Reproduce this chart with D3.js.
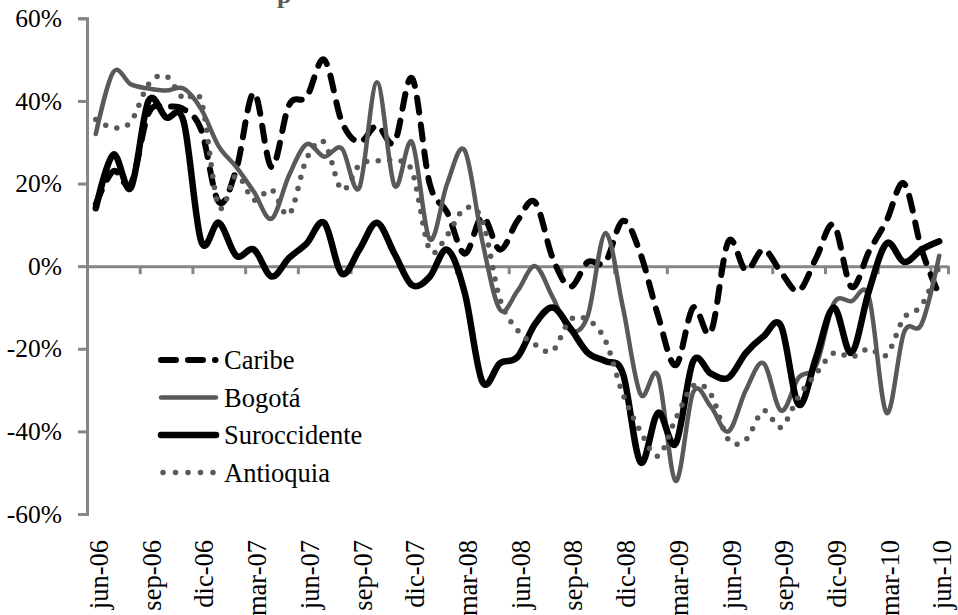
<!DOCTYPE html>
<html>
<head>
<meta charset="utf-8">
<script src="https://cdn.jsdelivr.net/npm/d3@7"></script>
<style>
  body { margin: 0; background: #fff; }
  text { font-family: "Liberation Serif", "Times New Roman", serif; fill: #000; }
</style>
</head>
<body>
<div id="chart"></div>
<script>
// monthly series, jun-06 .. jun-10 (49 months), values in %
var months = d3.range(49);
var tickLabels = ["jun-06", "sep-06", "dic-06", "mar-07", "jun-07", "sep-07", "dic-07", "mar-08",
  "jun-08", "sep-08", "dic-08", "mar-09", "jun-09", "sep-09", "dic-09", "mar-10", "jun-10"];
var seriesNames = ["Caribe", "Bogotá", "Suroccidente", "Antioquia"];

var caribe = [15, 23, 20, 37, 38.5, 38, 33, 15.5, 23.5, 42, 24, 39, 41, 50, 35, 30, 34, 30, 45.5, 20,
  13, 3, 12, 4, 11, 15.5, 2, -5, 1, 1, 11, 3, -12, -24, -10, -16, 6, -1, 4, -1.5,
  -6, 2, 10, -5, 3.5, 11, 20, 4, -7];
var bogota = [32, 47, 44, 43, 42.5, 43, 38, 29, 24, 18, 11.5, 22, 29.5, 26.5, 28.5, 19, 44.5, 19.5, 30, 6.5,
  20, 28, 6, -10.5, -6, 0, -7.5, -15.5, -12, 8, -10, -31, -26.5, -52, -30.5, -34, -40, -30, -23.5, -35,
  -27, -24, -9, -8.5, -7.5, -35.5, -16, -14, 2.5];
var suroccidente = [14, 27, 19, 40, 36, 35, 6, 10.5, 2.5, 4, -2.5, 2, 5.5, 10.5, -1.8, 4, 10.5, 3, -4.6, -2.6,
  4, -6.5, -28, -23.5, -22, -14, -10, -15, -21, -23, -26, -47.5, -35.5, -43, -23, -26, -27, -21, -17, -14.5,
  -33.5, -22, -10, -21, -6, 5.5, 1, 4, 6];
var antioquia = [35.5, 33.5, 35, 44, 46, 40.5, 40, 14.5, 22, 16, 18.5, 12.5, 26, 30, 18.5, 24.5, 25.5, 25.5, 23, 4,
  7.5, 14, 11, -8, -15.5, -19, -20.5, -13, -13, -18, -31, -40, -46, -37, -29, -31, -42, -42, -35, -39,
  -31.5, -26, -21, -22, -20, -21.5, -12.5, -9.5, 0];

var width = 958, height = 615;
var plotLeft = 87, plotRight = 948, plotTop = 18.3, plotBottom = 514;
var fontSize = 26.5;

var svg = d3.select("#chart").append("svg")
    .attr("width", width)
    .attr("height", height);

// title, cut off by the top edge as in the source picture
svg.append("text")
    .attr("x", 277)
    .attr("y", 3)
    .attr("font-size", 26)
    .attr("font-weight", "bold")
    .style("fill", "#595959")
    .text("p");

var x = d3.scaleBand().domain(months).range([plotLeft, plotRight]).padding(0);
var xEdge = d3.scaleLinear().domain([0, months.length]).range([plotLeft, plotRight]);
var y = d3.scaleLinear().domain([-0.6, 0.6]).range([plotBottom, plotTop]);

var axisColor = "#868686";
var pct = d3.format(".0%");

// y axis
var yAxis = svg.append("g")
    .attr("transform", "translate(" + plotLeft + ",0)")
    .call(d3.axisLeft(y).tickValues([-0.6, -0.4, -0.2, 0, 0.2, 0.4, 0.6]).tickSize(9).tickPadding(16)
      .tickFormat(function(d) { return pct(d).replace("\u2212", "-"); }));
yAxis.select(".domain").attr("stroke", axisColor).attr("stroke-width", 3);
yAxis.selectAll(".tick line").attr("stroke", axisColor).attr("stroke-width", 3);
yAxis.selectAll(".tick text").attr("font-size", 25.5).attr("fill", "#000");

// x axis across zero, ticks between categories every 3 months
var xAxis = svg.append("g")
    .attr("transform", "translate(0," + y(0) + ")")
    .call(d3.axisBottom(xEdge).tickValues(d3.range(0, 50, 3).concat([49])).tickSize(8).tickSizeOuter(0)
      .tickFormat(""));
xAxis.select(".domain").attr("stroke", axisColor).attr("stroke-width", 3);
xAxis.selectAll(".tick line").attr("stroke", axisColor).attr("stroke-width", 3);

// category labels at the bottom, rotated
svg.append("g").selectAll("text")
    .data(tickLabels)
  .enter().append("text")
    .attr("transform", function(d, i) {
      return "translate(" + (x(i * 3) + x.bandwidth() / 2 + 3) + ",540) rotate(-90)";
    })
    .attr("text-anchor", "end")
    .attr("dy", "0.35em")
    .attr("font-size", fontSize)
    .text(function(d) { return d; });

var styles = [
  {data: caribe, color: "#000", width: 6, dash: "15,12"},
  {data: bogota, color: "#595959", width: 4.5, dash: null},
  {data: suroccidente, color: "#000", width: 6.5, dash: null},
  {data: antioquia, color: "#595959", width: 5.5, dash: "0,11.5"}
];

var line = d3.line()
    .x(function(d, i) { return x(i) + x.bandwidth() / 2; })
    .y(function(d) { return y(d / 100); })
    .curve(d3.curveCardinal.tension(0));

svg.append("g").selectAll("path")
    .data(styles)
  .enter().append("path")
    .attr("d", function(s) { return line(s.data); })
    .attr("fill", "none")
    .attr("stroke", function(s) { return s.color; })
    .attr("stroke-width", function(s) { return s.width; })
    .attr("stroke-dasharray", function(s) { return s.dash; })
    .attr("stroke-linecap", "round")
    .attr("stroke-linejoin", "round");

// legend
var legend = svg.append("g").selectAll("g")
    .data(styles)
  .enter().append("g")
    .attr("transform", function(d, i) { return "translate(0," + (360 + i * 37.5) + ")"; });

legend.append("line")
    .attr("x1", function(d) { return d.dash === "0,11.5" ? 163 : 161; })
    .attr("x2", function(d) { return d.dash ? 215.5 : 216; })
    .attr("stroke", function(d) { return d.color; })
    .attr("stroke-width", function(d) { return d.width; })
    .attr("stroke-dasharray", function(d) { return d.dash === "0,11.5" ? "0,12.5" : (d.dash ? "15,12,15,12,0.5,20" : null); })
    .attr("stroke-linecap", "round");

legend.append("text")
    .attr("x", 224)
    .attr("y", 9)
    .attr("font-size", fontSize)
    .text(function(d, i) { return seriesNames[i]; });
</script>
</body>
</html>
